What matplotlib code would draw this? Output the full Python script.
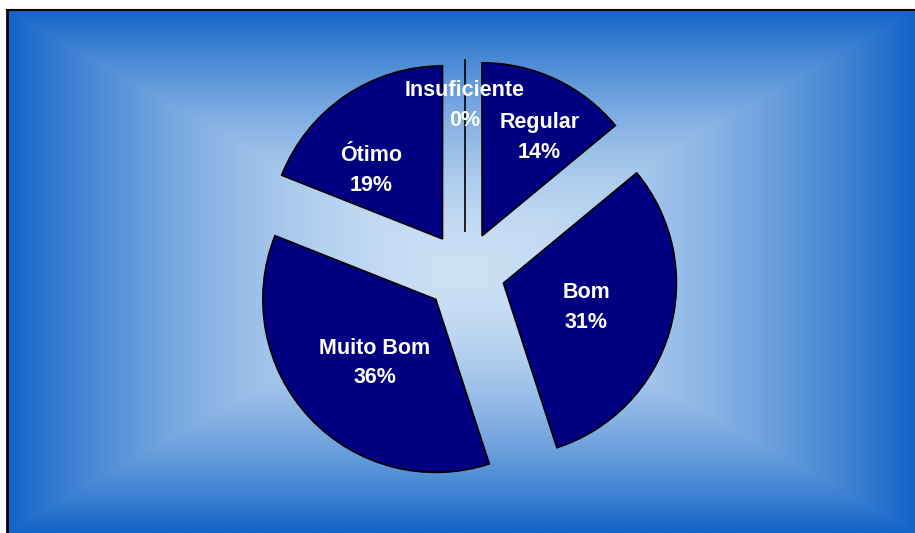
"""
Gráfico de pizza explodido com fundo em degradê (avaliação: Insuficiente a Ótimo).
"""

import numpy as np
import matplotlib.pyplot as plt

# Dados do gráfico
categorias = ['Insuficiente', 'Regular', 'Bom', 'Muito Bom', 'Ótimo']
valores = [0, 14, 31, 36, 19]

# Posição do rótulo relativa ao vértice da fatia:
# distância (fração do raio) e desvio angular (graus) em relação ao meio da fatia
dist_rotulo = [0.73, 0.66, 0.50, 0.51, 0.57]
desvio_rotulo = [0, -5, 0, 3, 12]

W, H = 915, 533
COR_FATIA = '#000080'
COR_CENTRO = np.array([205, 225, 245]) / 255
COR_BORDA = np.array([18, 100, 200]) / 255

fig = plt.figure(figsize=(W / 100, H / 100), dpi=100)
ax = fig.add_axes([0, 0, 1, 1])

# Fundo: degradê retangular a partir do centro da área do gráfico
x0, x1, y0, y1 = 7, W, 0, H - 10
xs = np.linspace(x0, x1, 600)
ys = np.linspace(y0, y1, 400)
X, Y = np.meshgrid(xs, ys)
cx, cy = (x0 + x1) / 2, (y0 + y1) / 2
t = np.maximum(np.abs(X - cx) / ((x1 - x0) / 2), np.abs(Y - cy) / ((y1 - y0) / 2))
f = np.clip(t, 0, 1) ** 1.7
img = COR_CENTRO + (COR_BORDA - COR_CENTRO) * f[..., None]
ax.imshow(img, extent=(x0, x1, y0, y1), origin='lower', zorder=0, interpolation='bilinear')

# Bordas pretas (topo e esquerda)
ax.plot([x0, x1], [y1, y1], color='black', lw=1.5, zorder=1)
ax.plot([x0, x0], [y0, y1], color='black', lw=2, zorder=1)

raio = 173
centro = (465, H - 272)
# explode em unidades de dados (px), não fração do raio
wedges, _ = ax.pie(
    valores,
    explode=[40] * len(valores),
    startangle=90,
    counterclock=False,
    colors=[COR_FATIA] * len(valores),
    radius=raio,
    center=centro,
    wedgeprops=dict(edgecolor='black', linewidth=1.2),
)

total = sum(valores)
for w, nome, v, d, da in zip(wedges, categorias, valores, dist_rotulo, desvio_rotulo):
    ang = np.deg2rad((w.theta1 + w.theta2) / 2 + da)
    px = w.center[0] + d * raio * np.cos(ang)
    py = w.center[1] + d * raio * np.sin(ang)
    ax.text(px, py, f"{nome}\n{round(100 * v / total)}%", ha='center', va='center',
            color='white', fontsize=15.5, fontweight='bold', family='Liberation Sans',
            linespacing=1.55, zorder=5)

ax.set_xlim(0, W)
ax.set_ylim(0, H)
ax.set_aspect('equal')
ax.axis('off')

fig.savefig('out.png', dpi=100, facecolor='white')
plt.close(fig)
